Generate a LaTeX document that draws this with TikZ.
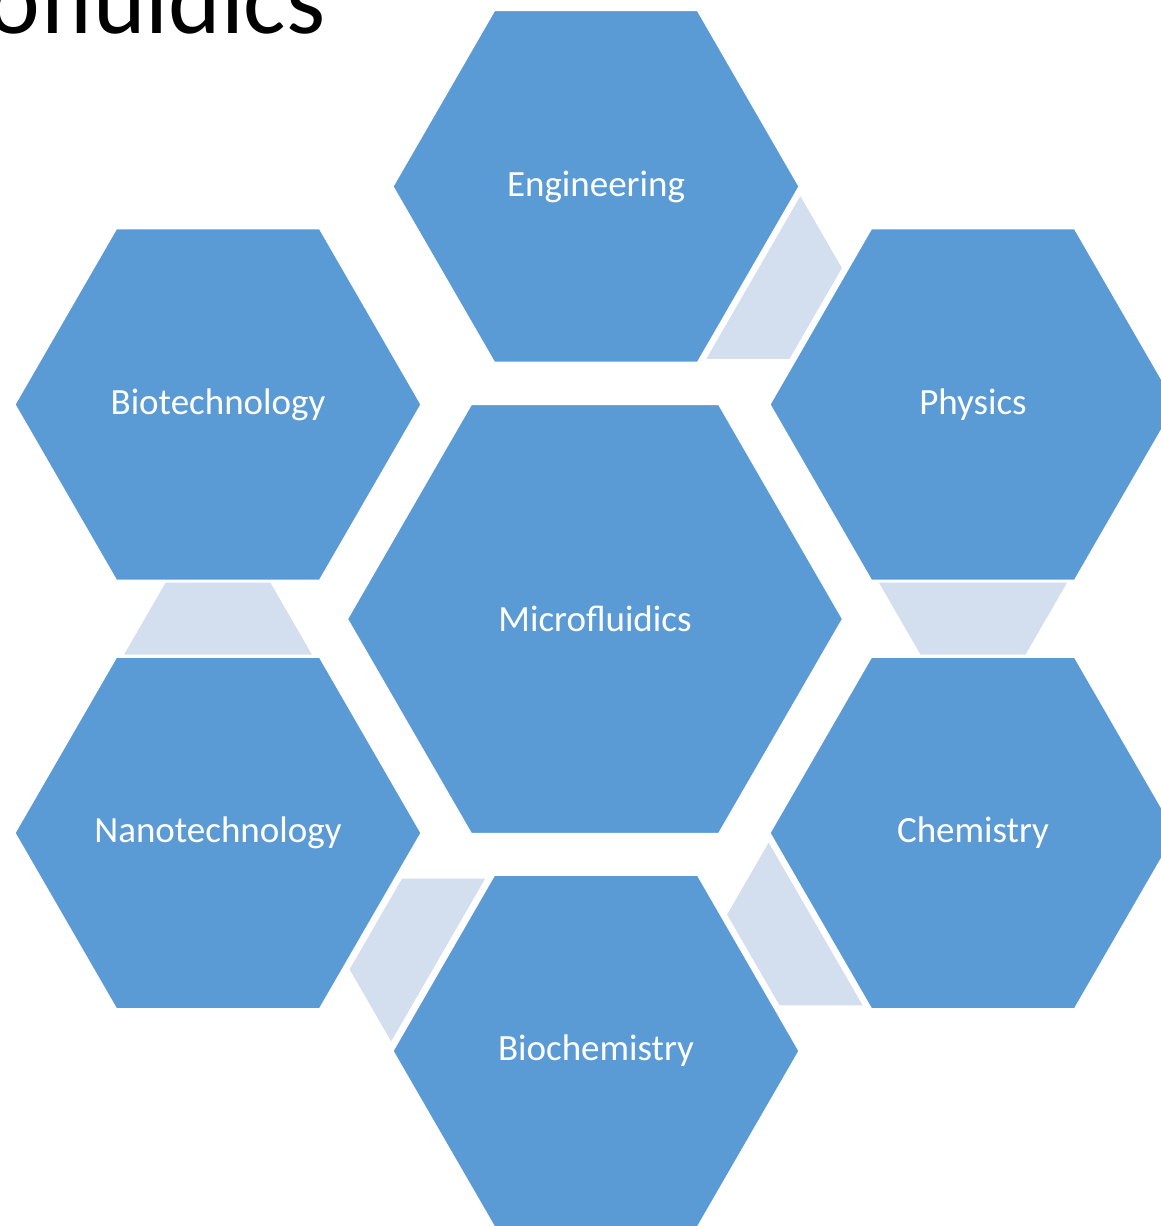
\documentclass[tikz,border=0pt]{standalone}
\usepackage{fontspec}
\setmainfont{Carlito}
\usetikzlibrary{shapes.geometric,calc,backgrounds}
\definecolor{hexblue}{HTML}{5B9BD5}
\definecolor{linkblue}{HTML}{D3DEEF}

% light trapezoid joining two neighbouring outer hexagons
\newcommand{\hexlink}[3]{%
  \begin{scope}[on background layer,shift={($(#1.center)!0.5!(#2.center)$)},rotate=#3]
    \fill[linkfill] (-94,36) -- (94,36) -- (52.4,-36) -- (-52.4,-36) -- cycle;
  \end{scope}}

\begin{document}
\begin{tikzpicture}[x=0.5pt,y=0.5pt,
  hexbox/.style={regular polygon,regular polygon sides=6,fill=hexblue,draw=white,
    line width=1pt,inner sep=0pt,text=white,font=\fontsize{18.5}{22}\selectfont},
  outerhex/.style={hexbox,minimum size=203.5pt},
  centrehex/.style={hexbox,minimum size=248pt},
  linkfill/.style={fill=linkblue},
  titletext/.style={anchor=base east,inner sep=0pt,text=black,font=\fontsize{50}{60}\selectfont}]
\clip (0,0) rectangle (1161,1226);

% slide title, partly outside the frame
\node[titletext] (title) at (326,1192) {Microfluidics};

% central hexagon
\node[centrehex] (micro) at (595,607) {Microfluidics};

% ring of outer hexagons
\node[outerhex] (eng)   at (596,1039.5) {Engineering};
\node[outerhex] (phys)  at (973,821.5)  {Physics};
\node[outerhex] (chem)  at (973,393)    {Chemistry};
\node[outerhex] (bioch) at (596,175)    {Biochemistry};
\node[outerhex] (nano)  at (218,393)    {Nanotechnology};
\node[outerhex] (biot)  at (218,821.5)  {Biotechnology};

% connecting pieces between neighbours
\hexlink{eng}{phys}{60}
\hexlink{phys}{chem}{0}
\hexlink{chem}{bioch}{-60}
\hexlink{bioch}{nano}{-120}
\hexlink{nano}{biot}{180}
\end{tikzpicture}
\end{document}
